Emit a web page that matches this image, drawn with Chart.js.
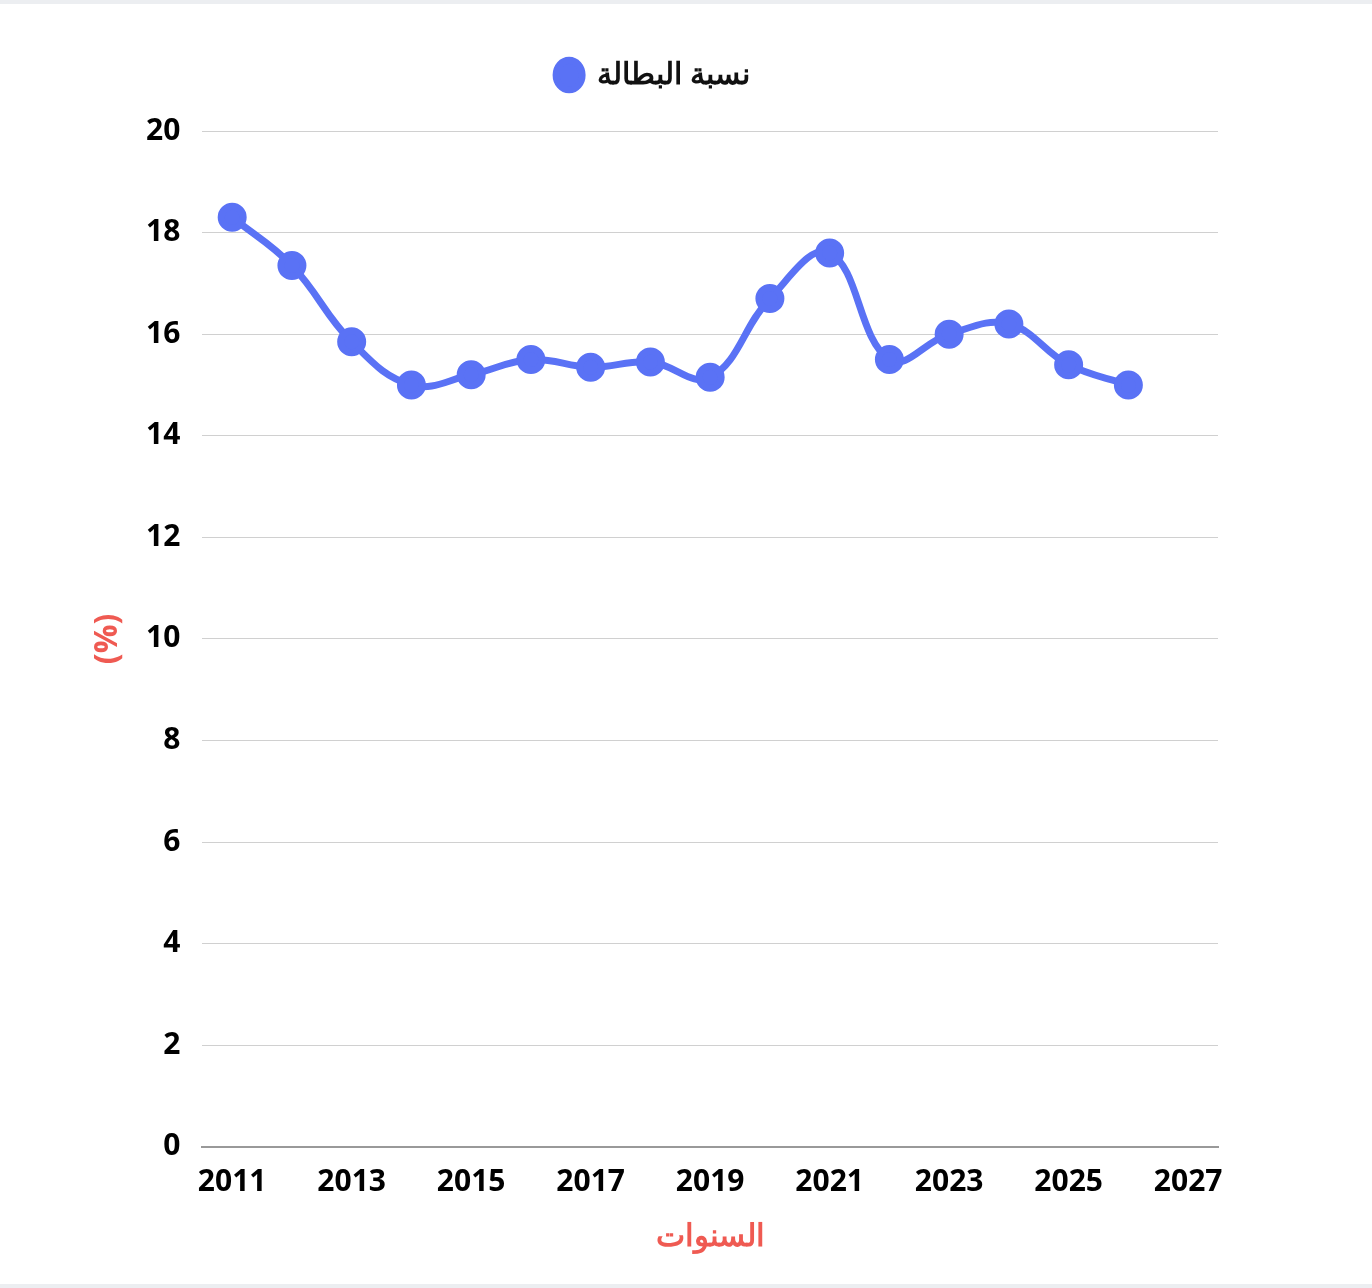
<!DOCTYPE html>
<html lang="ar">
<head>
<meta charset="utf-8">
<title>نسبة البطالة</title>
<script src="https://cdn.jsdelivr.net/npm/chart.js@4.4.1/dist/chart.umd.min.js"></script>
<style>
  html, body { margin: 0; padding: 0; background: #eceef1; }
  .card { margin-top: 4px; width: 1372px; height: 1280px; background: #fff; position: relative; }
  canvas { display: block; }
</style>
</head>
<body>
<div class="card"><canvas id="chart" width="1372" height="1280"></canvas></div>
<script>
// --- dati ---
const years = [2011, 2012, 2013, 2014, 2015, 2016, 2017, 2018, 2019, 2020, 2021, 2022, 2023, 2024, 2025, 2026];
const unemployment = [18.3, 17.35, 15.85, 15.0, 15.2, 15.5, 15.35, 15.45, 15.15, 16.7, 17.6, 15.5, 16.0, 16.2, 15.4, 15.0];
const xTicks = [2011, 2013, 2015, 2017, 2019, 2021, 2023, 2025, 2027];
const seriesLabel = 'نسبة البطالة';
const xTitle = 'السنوات';
const yTitle = '(%)';

const blue = '#5a72f5';
const red = '#ef5a52';
const font = "'Open Sans', 'Noto Sans', sans-serif";

// spazio extra sotto la legenda
const legendGap = {
  id: 'legendGap',
  beforeInit(chart) {
    const fit = chart.legend.fit;
    chart.legend.fit = function () {
      fit.bind(chart.legend)();
      this.height += 31;
    };
  }
};

const ctx = document.getElementById('chart');
new Chart(ctx, {
  type: 'line',
  data: {
    datasets: [{
      label: seriesLabel,
      data: years.map((y, i) => ({ x: y, y: unemployment[i] })),
      borderColor: blue,
      backgroundColor: blue,
      borderWidth: 7,
      pointRadius: 11,
      pointHoverRadius: 12,
      tension: 0.4,
      fill: false
    }]
  },
  options: {
    responsive: false,
    animation: false,
    layout: { padding: { left: 88, right: 154, top: 36, bottom: 28 } },
    plugins: {
      tooltip: { enabled: false },
      legend: {
        labels: {
          usePointStyle: true,
          pointStyle: 'circle',
          boxWidth: 21,
          boxHeight: 21,
          pointStyleWidth: 26,
          color: '#111',
          font: { family: font, size: 30, weight: 'bold' },
          padding: 20
        }
      }
    },
    scales: {
      x: {
        type: 'linear',
        min: 2010.5,
        max: 2027.5,
        afterBuildTicks: (axis) => { axis.ticks = xTicks.map(v => ({ value: v })); },
        grid: { display: false, drawTicks: false },
        border: { display: true, color: '#999', width: 2 },
        ticks: {
          color: '#000',
          padding: 18,
          maxRotation: 0,
          font: { family: font, size: 30, weight: 'bold' },
          callback: (v) => String(v)
        },
        title: {
          display: true,
          text: xTitle,
          color: red,
          font: { family: font, size: 31, weight: '600' },
          padding: { top: 0, bottom: 0 }
        }
      },
      y: {
        min: 0,
        max: 20,
        ticks: {
          stepSize: 2,
          color: '#000',
          padding: 22,
          font: { family: font, size: 30, weight: 'bold' }
        },
        grid: { color: '#d0d0d0', lineWidth: 1, drawTicks: false },
        border: { display: false },
        title: {
          display: true,
          text: yTitle,
          color: red,
          font: { family: font, size: 32, weight: 'bold', lineHeight: 1 },
          padding: { top: 4, bottom: 0 }
        }
      }
    }
  },
  plugins: [legendGap]
});
</script>
</body>
</html>
